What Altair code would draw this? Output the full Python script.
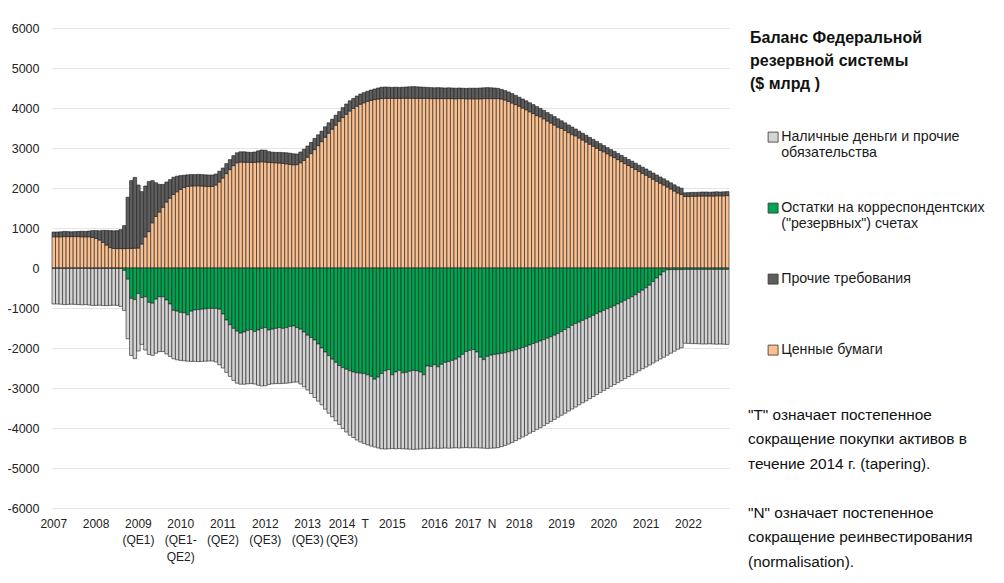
import altair as alt
import pandas as pd

# ---- monthly data, Jan 2007 .. Dec 2022 ($ bn) ----
# Securities held (orange, positive)
securities = [
    780, 780, 780, 785, 785, 785, 785, 785, 780, 780, 780, 765,
    740, 700, 640, 575, 510, 490, 485, 485, 485, 490, 490, 495,
    500, 600, 780, 910, 1130, 1290, 1400, 1520, 1650, 1745, 1840, 1905,
    1965, 2015, 2040, 2050, 2055, 2055, 2050, 2045, 2040, 2040, 2075, 2150,
    2250, 2360, 2460, 2560, 2630, 2650, 2645, 2645, 2640, 2640, 2650, 2655,
    2650, 2640, 2635, 2630, 2625, 2615, 2605, 2590, 2580, 2585, 2630, 2690,
    2770, 2860, 2960, 3060, 3160, 3270, 3370, 3470, 3570, 3670, 3760, 3845,
    3925, 3990, 4045, 4095, 4130, 4165, 4190, 4210, 4225, 4235, 4240, 4240,
    4240, 4240, 4240, 4245, 4245, 4245, 4245, 4240, 4240, 4240, 4240, 4235,
    4235, 4235, 4235, 4235, 4235, 4235, 4230, 4235, 4235, 4230, 4230, 4230,
    4230, 4230, 4235, 4235, 4235, 4235, 4235, 4225, 4200, 4165, 4125, 4085,
    4045, 4000, 3955, 3905, 3860, 3810, 3780, 3730, 3675, 3625, 3575, 3520,
    3490, 3440, 3385, 3335, 3305, 3250, 3200, 3150, 3095, 3045, 2995, 2940,
    2905, 2855, 2805, 2760, 2710, 2660, 2610, 2560, 2515, 2465, 2415, 2365,
    2320, 2270, 2220, 2170, 2120, 2075, 2025, 1975, 1925, 1875, 1840, 1790,
    1790, 1795, 1795, 1800, 1800, 1800, 1800, 1800, 1805, 1805, 1805, 1810,
]
# Other claims (dark grey, positive, on top of securities)
other_claims = [
    120, 120, 125, 130, 125, 120, 125, 130, 140, 135, 145, 170,
    195, 230, 300, 365, 425, 440, 450, 475, 575, 1280, 1695, 1770,
    1575, 1310, 1270, 1250, 1055, 840, 690, 570, 500, 465, 430, 390,
    345, 305, 290, 285, 280, 285, 285, 285, 285, 285, 275, 270,
    250, 250, 250, 250, 250, 255, 260, 250, 250, 260, 280, 295,
    295, 270, 260, 260, 265, 270, 275, 280, 275, 265, 270, 280,
    280, 280, 280, 270, 260, 260, 260, 250, 250, 240, 250, 255,
    255, 250, 255, 255, 255, 255, 260, 265, 275, 285, 285, 280,
    275, 280, 275, 275, 280, 285, 290, 290, 285, 280, 275, 275,
    270, 275, 270, 265, 270, 265, 265, 265, 260, 260, 265, 265,
    265, 270, 270, 275, 270, 265, 255, 240, 235, 235, 235, 230,
    225, 225, 225, 225, 225, 225, 210, 210, 210, 210, 210, 210,
    190, 190, 190, 190, 170, 170, 170, 170, 170, 170, 170, 170,
    155, 155, 155, 155, 155, 155, 155, 155, 155, 155, 155, 155,
    155, 155, 155, 155, 155, 155, 155, 155, 155, 155, 155, 90,
    95, 95, 95, 95, 100, 100, 95, 100, 100, 95, 100, 100,
]
# Reserve balances (green, negative side)
reserves = [
    -12, -10, -11, -12, -10, -10, -12, -11, -10, -12, -11, -15,
    -12, -11, -12, -12, -11, -12, -12, -13, -60, -280, -760, -790,
    -640, -740, -720, -860, -880, -780, -720, -720, -800, -900, -1060, -1080,
    -1110, -1120, -1170, -1080, -1050, -1040, -1030, -1020, -1010, -1010, -1010, -1030,
    -1150, -1300, -1420, -1510, -1580, -1630, -1600, -1560, -1540, -1590, -1550, -1510,
    -1490, -1550, -1530, -1510, -1490, -1510, -1490, -1460, -1450, -1490, -1530, -1600,
    -1680, -1740, -1800, -1900, -2000, -2100, -2190, -2280, -2360, -2440, -2490, -2530,
    -2570, -2600, -2620, -2630, -2640, -2670, -2710, -2780, -2730, -2640, -2570, -2540,
    -2670, -2600, -2560, -2620, -2610, -2580, -2560, -2570, -2600, -2670, -2450, -2460,
    -2420, -2470, -2410, -2360, -2340, -2310, -2280, -2230, -2160, -2090, -2060, -2040,
    -2100, -2230, -2290, -2210, -2180, -2160, -2150, -2135, -2120, -2095, -2070, -2045,
    -2020, -1990, -1960, -1925, -1890, -1860, -1825, -1790, -1755, -1720, -1680, -1640,
    -1590, -1540, -1490, -1435, -1390, -1355, -1310, -1270, -1230, -1185, -1140, -1100,
    -1060, -1020, -985, -945, -900, -855, -810, -765, -720, -670, -610, -555,
    -495, -430, -340, -250, -175, -95, -45, -40, -40, -40, -40, -35,
    -35, -35, -35, -35, -35, -35, -35, -35, -35, -35, -35, -35,
]
# Currency and other liabilities (light grey, negative, below reserves)
currency_other = [
    -888, -890, -894, -903, -900, -895, -898, -904, -910, -903, -914, -920,
    -923, -919, -928, -928, -924, -918, -923, -947, -1000, -1490, -1425, -1475,
    -1435, -1170, -1330, -1300, -1305, -1350, -1370, -1370, -1350, -1310, -1210, -1215,
    -1200, -1200, -1160, -1255, -1285, -1300, -1305, -1310, -1315, -1315, -1340, -1390,
    -1350, -1310, -1290, -1300, -1300, -1275, -1305, -1335, -1350, -1310, -1380, -1440,
    -1455, -1360, -1365, -1380, -1400, -1375, -1390, -1410, -1405, -1360, -1370, -1370,
    -1370, -1400, -1440, -1430, -1420, -1430, -1440, -1440, -1460, -1470, -1520, -1570,
    -1610, -1640, -1680, -1720, -1745, -1750, -1740, -1695, -1770, -1880, -1955, -1980,
    -1845, -1920, -1955, -1900, -1915, -1950, -1975, -1960, -1925, -1850, -2065, -2050,
    -2085, -2040, -2095, -2140, -2165, -2190, -2215, -2270, -2335, -2400, -2435, -2455,
    -2395, -2270, -2215, -2300, -2325, -2340, -2340, -2330, -2315, -2305, -2290, -2270,
    -2250, -2235, -2220, -2205, -2195, -2175, -2165, -2150, -2130, -2115, -2105, -2090,
    -2090, -2090, -2085, -2090, -2085, -2065, -2060, -2050, -2035, -2030, -2025, -2010,
    -2000, -1990, -1975, -1970, -1965, -1960, -1955, -1950, -1950, -1950, -1960, -1965,
    -1980, -1995, -2035, -2075, -2100, -2135, -2135, -2090, -2040, -1990, -1955, -1845,
    -1850, -1855, -1855, -1860, -1865, -1865, -1860, -1865, -1870, -1865, -1870, -1875,
]

series_names = [
    "Наличные деньги и прочие\nобязательства",
    "Остатки на корреспондентских\n(\"резервных\") счетах",
    "Прочие требования",
    "Ценные бумаги",
]
series_colors = ["#d4d4d4", "#00a550", "#5e5e5e", "#fac090"]

# x-axis tick labels (month index position, text)
tick_pos = [0, 12, 24, 36, 48, 60, 72, 81.75, 88.3, 96, 108, 117.5, 124.3, 132, 144, 156, 168, 180]
tick_text = ["2007", "2008", "2009\n(QE1)", "2010\n(QE1-\nQE2)", "2011\n(QE2)", "2012\n(QE3)",
             "2013\n(QE3)", "2014\n(QE3)", "T", "2015", "2016", "2017", "N", "2018", "2019",
             "2020", "2021", "2022"]

title_text = "Баланс Федеральной\nрезервной системы\n($ млрд )"
note_t = "\"T\" означает постепенное\nсокращение покупки активов в\nтечение 2014 г. (tapering)."
note_n = "\"N\" означает постепенное\nсокращение реинвестирования\n(normalisation)."

FONT = "Liberation Sans, Arial, sans-serif"

rows = []
for i in range(len(securities)):
    rows.append({"idx": i, "series": series_names[3], "value": securities[i], "ord": 1})
    rows.append({"idx": i, "series": series_names[2], "value": other_claims[i], "ord": 2})
    rows.append({"idx": i, "series": series_names[1], "value": reserves[i], "ord": 1})
    rows.append({"idx": i, "series": series_names[0], "value": currency_other[i], "ord": 2})
df = pd.DataFrame(rows)

xscale = alt.Scale(domain=[-0.5, 191.5], nice=False, zero=False)

bars = alt.Chart(df).transform_stack(
    stack="value", groupby=["idx"], as_=["v0", "v1"],
    sort=[alt.SortField("ord", order="ascending")], offset="zero"
).transform_calculate(
    x0="datum.idx - 0.5", x1="datum.idx + 0.5"
).mark_bar(stroke="#1c1c1c", strokeWidth=0.6).encode(
    x=alt.X("x0:Q", scale=xscale, axis=None),
    x2="x1:Q",
    y=alt.Y("v0:Q",
            scale=alt.Scale(domain=[-6000, 6000], nice=False),
            axis=alt.Axis(values=list(range(-6000, 6001, 1000)), title=None,
                          domain=False, ticks=False, labelPadding=13,
                          labelExpr="'' + datum.value",
                          gridColor="#e4e4e4", gridWidth=1,
                          labelFont=FONT, labelFontSize=12.5, labelColor="#222222")),
    y2="v1:Q",
    color=alt.Color("series:N",
                    scale=alt.Scale(domain=series_names, range=series_colors),
                    legend=alt.Legend(orient="none", legendX=714, legendY=102,
                                      title=None, symbolType="square", symbolSize=100,
                                      symbolStrokeColor="#333333", symbolStrokeWidth=0.8,
                                      labelFont=FONT, labelFontSize=14.2, labelColor="#1a1a1a",
                                      labelLimit=300, rowPadding=40,
                                      padding=0, labelOffset=1,
                                      labelExpr="split(datum.label + (indexof(datum.label, '\\n') < 0 ? '\\n ' : ''), '\\n')")),
)

ticks_df = pd.DataFrame({"pos": tick_pos, "label": tick_text})
xlabels = alt.Chart(ticks_df).mark_text(
    lineBreak="\n", baseline="top", align="center", font=FONT, fontSize=12,
    lineHeight=16.7, color="#222222"
).encode(x=alt.X("pos:Q", scale=xscale), y=alt.value(490.5), text="label:N")

title_mark = alt.Chart(pd.DataFrame({"t": [title_text]})).mark_text(
    lineBreak="\n", baseline="top", align="left", font=FONT, fontSize=16,
    fontWeight="bold", lineHeight=23, color="#111111"
).encode(x=alt.value(698), y=alt.value(2), text="t:N")

note_t_mark = alt.Chart(pd.DataFrame({"t": [note_t]})).mark_text(
    lineBreak="\n", baseline="top", align="left", font=FONT, fontSize=15.4,
    lineHeight=24.3, color="#111111"
).encode(x=alt.value(696), y=alt.value(380), text="t:N")

note_n_mark = alt.Chart(pd.DataFrame({"t": [note_n]})).mark_text(
    lineBreak="\n", baseline="top", align="left", font=FONT, fontSize=15.4,
    lineHeight=24.3, color="#111111"
).encode(x=alt.value(696), y=alt.value(478), text="t:N")

chart = alt.layer(bars, xlabels, title_mark, note_t_mark, note_n_mark).properties(
    width=677, height=480,
    autosize=alt.AutoSizeParams(type="none"),
    padding={"left": 44, "top": 20, "right": 260, "bottom": 62},
).configure_view(strokeWidth=0)

chart.save("out.html", embed_options={"renderer": "svg", "actions": False})
